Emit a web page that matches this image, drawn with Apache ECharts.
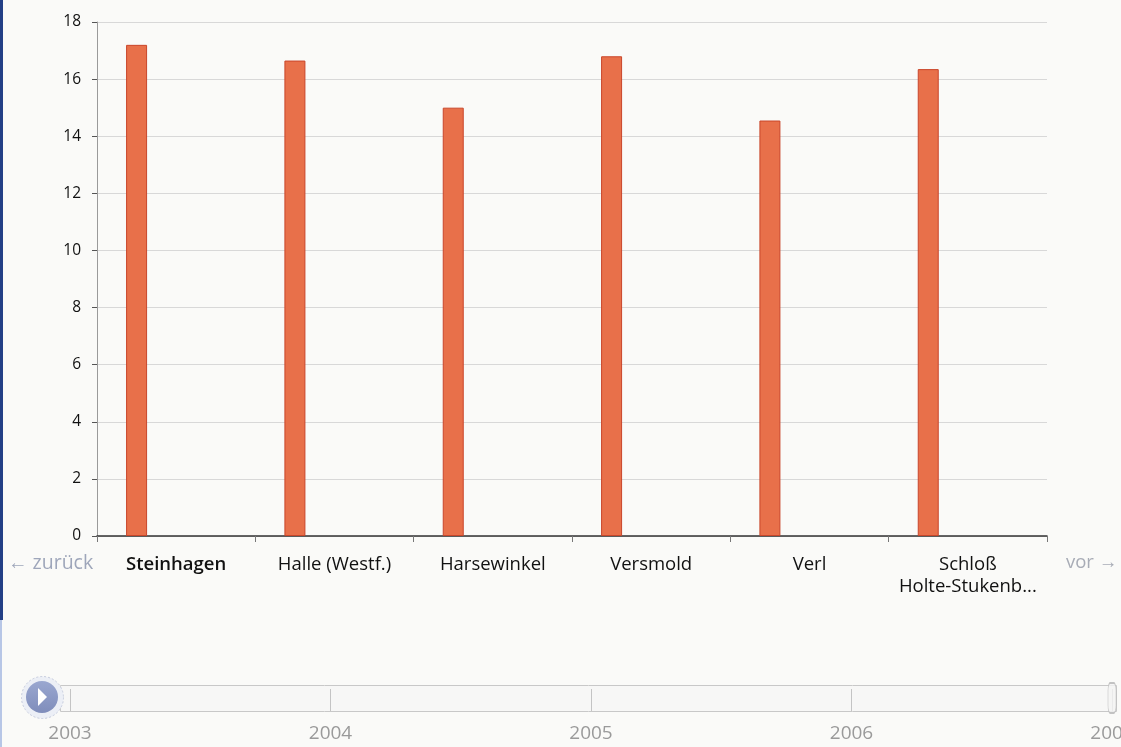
<!DOCTYPE html>
<html>
<head>
<meta charset="utf-8">
<script src="https://cdn.jsdelivr.net/npm/echarts@6/dist/echarts.min.js"></script>
<style>
html,body{margin:0;padding:0;background:#fafaf8;}
#chart{width:1121px;height:747px;}
</style>
</head>
<body>
<div id="chart"></div>
<script>
const categories = ['Steinhagen', 'Halle (Westf.)', 'Harsewinkel', 'Versmold', 'Verl', 'Schloß\nHolte-Stukenb...'];
const values = [17.2, 16.65, 15.0, 16.8, 14.55, 16.35];
const yTicks = { min: 0, max: 18, interval: 2 };
const years = ['2003', '2004', '2005', '2006', '2007'];
const currentYear = '2007';

const FONT = '"Open Sans", "Noto Sans", sans-serif';
const chart = echarts.init(document.getElementById('chart'));

const option = {
  backgroundColor: '#fafaf8',
  animation: false,
  textStyle: { fontFamily: FONT },
  grid: [
    { left: 97, right: 74, top: 22, bottom: 211, outerBoundsMode: 'none', containLabel: false },
    { left: 70, right: 9, top: 685, height: 26, outerBoundsMode: 'none', containLabel: false }
  ],
  xAxis: [
    {
      type: 'category',
      gridIndex: 0,
      data: categories.map((c, i) => i === 0 ? { value: c, textStyle: { fontWeight: 600 } } : c),
      axisLine: { lineStyle: { color: '#333', width: 1.5 } },
      axisTick: { show: true, length: 6, lineStyle: { color: '#777' } },
      axisLabel: { color: '#111', fontSize: 18.5, margin: 18, lineHeight: 22, fontFamily: FONT, interval: 0, hideOverlap: false }
    },
    {
      type: 'category',
      gridIndex: 1,
      data: years,
      boundaryGap: false,
      axisLine: { show: false },
      axisTick: { show: true, inside: true, length: 22, lineStyle: { color: '#c4c4c4' }, interval: 0 },
      axisLabel: { color: '#9a9a9a', fontSize: 19, margin: 13, fontFamily: FONT, interval: 0, hideOverlap: false }
    }
  ],
  yAxis: [
    {
      type: 'value',
      gridIndex: 0,
      min: yTicks.min, max: yTicks.max, interval: yTicks.interval,
      axisLine: { show: true, lineStyle: { color: '#9a9a9a' } },
      axisTick: { show: true, length: 5, lineStyle: { color: '#555' } },
      axisLabel: { color: '#111', fontSize: 15.5, margin: 16, fontFamily: FONT },
      splitLine: { lineStyle: { color: '#d8d8d8' } }
    },
    {
      type: 'value',
      gridIndex: 1,
      min: 0, max: 1,
      show: false
    }
  ],
  series: [
    {
      type: 'bar',
      xAxisIndex: 0, yAxisIndex: 0,
      data: values,
      barWidth: 21,
      barGap: '277%',
      itemStyle: { color: '#e8704a', borderColor: '#c9462a', borderWidth: 1 }
    },
    {
      type: 'bar',
      xAxisIndex: 0, yAxisIndex: 0,
      data: [],
      barWidth: 21
    },
    {
      type: 'scatter',
      xAxisIndex: 1, yAxisIndex: 1,
      data: [[currentYear, 0.5]],
      symbol: 'roundRect',
      symbolSize: [8, 30],
      itemStyle: { color: '#f4f4f4', borderColor: '#b5b5b5', borderWidth: 1 },
      z: 5
    }
  ],
  graphic: [
    { type: 'rect', left: 0, top: 0, shape: { width: 3, height: 620 }, style: { fill: '#233f86' }, z: 100 },
    { type: 'rect', left: 0, top: 620, shape: { width: 2, height: 127 }, style: { fill: '#b7c6e6' }, z: 100 },
    { type: 'text', left: 8, top: 553, style: { text: '← zurück', fill: '#9ea6ba', font: '19.5px ' + FONT } },
    { type: 'text', left: 1066, top: 553, style: { text: 'vor →', fill: '#a8acb6', font: '18.5px ' + FONT } },
    { type: 'rect', left: 60, top: 685, z: -1, shape: { width: 1056, height: 26 }, style: { fill: '#f7f7f6', stroke: '#c8c8c8', lineWidth: 1 } },
    { type: 'circle', left: 21, top: 676, shape: { r: 21 }, style: { fill: '#eceff6', stroke: '#c5cbdd', lineWidth: 1, lineDash: [2, 2] }, z: 10 },
    { type: 'circle', left: 26, top: 681, shape: { r: 16 }, style: { fill: new echarts.graphic.LinearGradient(0, 0, 0, 1, [{ offset: 0, color: '#9aa7d0' }, { offset: 1, color: '#7f8dbb' }]) }, z: 11 },
    { type: 'polygon', left: 38, top: 688, shape: { points: [[0, 0], [9, 9], [0, 18]] }, style: { fill: '#ffffff' }, z: 12 }
  ]
};
chart.setOption(option);
</script>
</body>
</html>
